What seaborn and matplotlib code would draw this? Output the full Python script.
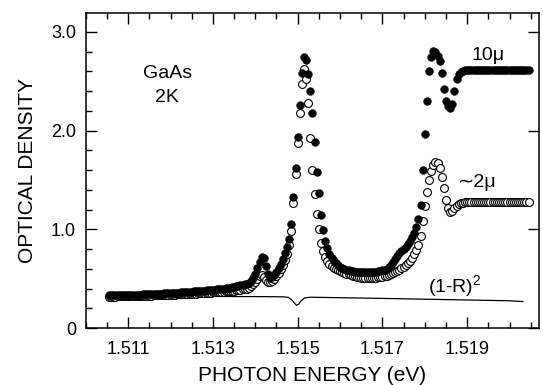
"""
GaAs 2K absorption spectrum: optical density vs photon energy for a 10 um
and a ~2 um sample, with the (1-R)^2 reflection correction underneath.
"""

import matplotlib
matplotlib.use("Agg")
import matplotlib.pyplot as plt
import pandas as pd
import seaborn as sns
from matplotlib.ticker import MultipleLocator

# ----- data -----
energy_ev = [
    1.51055, 1.51060, 1.51065, 1.51070, 1.51075, 1.51080, 1.51085, 1.51090, 1.51095, 1.51100,
    1.51105, 1.51110, 1.51115, 1.51120, 1.51125, 1.51130, 1.51135, 1.51140, 1.51145, 1.51150,
    1.51155, 1.51160, 1.51165, 1.51170, 1.51175, 1.51180, 1.51185, 1.51190, 1.51195, 1.51200,
    1.51205, 1.51210, 1.51215, 1.51220, 1.51225, 1.51230, 1.51235, 1.51240, 1.51245, 1.51250,
    1.51255, 1.51260, 1.51265, 1.51270, 1.51275, 1.51280, 1.51285, 1.51290, 1.51295, 1.51300,
    1.51305, 1.51310, 1.51315, 1.51320, 1.51325, 1.51330, 1.51335, 1.51340, 1.51345, 1.51350,
    1.51355, 1.51360, 1.51365, 1.51370, 1.51375, 1.51380, 1.51385, 1.51390, 1.51395, 1.51400,
    1.51405, 1.51410, 1.51415, 1.51420, 1.51425, 1.51430, 1.51435, 1.51440, 1.51445, 1.51450,
    1.51455, 1.51460, 1.51465, 1.51470, 1.51475, 1.51480, 1.51485, 1.51490, 1.51495, 1.51500,
    1.51505, 1.51510, 1.51515, 1.51520, 1.51525, 1.51530, 1.51535, 1.51540, 1.51545, 1.51550,
    1.51555, 1.51560, 1.51565, 1.51570, 1.51575, 1.51580, 1.51585, 1.51590, 1.51595, 1.51600,
    1.51605, 1.51610, 1.51615, 1.51620, 1.51625, 1.51630, 1.51635, 1.51640, 1.51645, 1.51650,
    1.51655, 1.51660, 1.51665, 1.51670, 1.51675, 1.51680, 1.51685, 1.51690, 1.51695, 1.51700,
    1.51705, 1.51710, 1.51715, 1.51720, 1.51725, 1.51730, 1.51735, 1.51740, 1.51745, 1.51750,
    1.51755, 1.51760, 1.51765, 1.51770, 1.51775, 1.51780, 1.51785, 1.51790, 1.51795, 1.51800,
    1.51805, 1.51810, 1.51815, 1.51820, 1.51825, 1.51830, 1.51835, 1.51840, 1.51845, 1.51850,
    1.51855, 1.51860, 1.51865, 1.51870, 1.51875, 1.51880, 1.51885, 1.51890, 1.51895, 1.51900,
    1.51905, 1.51910, 1.51915, 1.51920, 1.51925, 1.51930, 1.51935, 1.51940, 1.51945, 1.51950,
    1.51955, 1.51960, 1.51965, 1.51970, 1.51975, 1.51980, 1.51985, 1.51990, 1.51995, 1.52000,
    1.52005, 1.52010, 1.52015, 1.52020, 1.52025, 1.52030, 1.52035, 1.52040, 1.52045,
]

# 10 um sample (filled circles)
od_10um = [
    0.330, 0.330, 0.331, 0.331, 0.332, 0.332, 0.333, 0.333, 0.334, 0.334,
    0.335, 0.336, 0.336, 0.337, 0.338, 0.339, 0.340, 0.341, 0.342, 0.343,
    0.344, 0.345, 0.346, 0.347, 0.348, 0.349, 0.350, 0.351, 0.352, 0.354,
    0.355, 0.356, 0.358, 0.359, 0.360, 0.362, 0.363, 0.365, 0.366, 0.368,
    0.370, 0.371, 0.373, 0.375, 0.377, 0.379, 0.381, 0.383, 0.385, 0.388,
    0.390, 0.392, 0.395, 0.397, 0.400, 0.403, 0.406, 0.410, 0.414, 0.418,
    0.422, 0.427, 0.432, 0.437, 0.442, 0.45, 0.46, 0.48, 0.51, 0.55,
    0.61, 0.67, 0.72, 0.71, 0.63, 0.55, 0.51, 0.52, 0.54, 0.57,
    0.61, 0.65, 0.70, 0.76, 0.82, 0.90, 1.05, 1.33, 1.62, 1.93,
    2.26, 2.58, 2.75, 2.71, 2.57, 2.40, 2.18, 1.88, 1.58, 1.37,
    1.14, 0.99, 0.88, 0.81, 0.75, 0.71, 0.68, 0.66, 0.64, 0.62,
    0.61, 0.60, 0.59, 0.585, 0.58, 0.575, 0.57, 0.57, 0.57, 0.57,
    0.57, 0.57, 0.57, 0.57, 0.57, 0.57, 0.57, 0.575, 0.58, 0.585,
    0.59, 0.60, 0.62, 0.64, 0.67, 0.70, 0.73, 0.76, 0.78, 0.80,
    0.82, 0.85, 0.88, 0.92, 0.96, 1.02, 1.10, 1.25, 1.60, 1.97,
    2.30, 2.60, 2.75, 2.81, 2.80, 2.76, 2.70, 2.58, 2.42, 2.30,
    2.25, 2.23, 2.27, 2.40, 2.52, 2.57, 2.59, 2.60, 2.61, 2.61,
    2.61, 2.61, 2.61, 2.61, 2.61, 2.61, 2.61, 2.61, 2.61, 2.61,
    2.61, 2.61, 2.61, 2.61, 2.61, 2.61, 2.61, 2.61, 2.61, 2.61,
    2.61, 2.61, 2.61, 2.61, 2.61, 2.61, 2.61, 2.61, 2.61,
]

# ~2 um sample (open circles)
od_2um = [
    0.318, 0.318, 0.319, 0.319, 0.320, 0.320, 0.321, 0.321, 0.322, 0.322,
    0.323, 0.323, 0.324, 0.324, 0.325, 0.326, 0.326, 0.327, 0.328, 0.328,
    0.329, 0.330, 0.331, 0.331, 0.332, 0.333, 0.334, 0.335, 0.336, 0.337,
    0.338, 0.339, 0.340, 0.341, 0.342, 0.343, 0.344, 0.345, 0.346, 0.347,
    0.348, 0.349, 0.351, 0.352, 0.353, 0.354, 0.356, 0.357, 0.358, 0.360,
    0.361, 0.363, 0.364, 0.366, 0.368, 0.370, 0.372, 0.374, 0.376, 0.379,
    0.382, 0.385, 0.388, 0.392, 0.396, 0.40, 0.41, 0.43, 0.45, 0.47,
    0.50, 0.53, 0.54, 0.52, 0.49, 0.47, 0.47, 0.48, 0.50, 0.53,
    0.56, 0.60, 0.64, 0.69, 0.75, 0.84, 0.98, 1.27, 1.56, 1.87,
    2.18, 2.47, 2.62, 2.52, 2.28, 1.92, 1.60, 1.36, 1.16, 1.00,
    0.86, 0.78, 0.72, 0.68, 0.65, 0.63, 0.61, 0.60, 0.59, 0.58,
    0.57, 0.56, 0.55, 0.545, 0.54, 0.53, 0.525, 0.52, 0.515, 0.51,
    0.51, 0.51, 0.51, 0.51, 0.51, 0.51, 0.51, 0.515, 0.52, 0.52,
    0.525, 0.53, 0.54, 0.55, 0.56, 0.57, 0.58, 0.59, 0.61, 0.62,
    0.64, 0.66, 0.68, 0.71, 0.75, 0.79, 0.84, 0.93, 1.08, 1.24,
    1.38, 1.50, 1.59, 1.65, 1.68, 1.67, 1.62, 1.53, 1.42, 1.30,
    1.22, 1.18, 1.19, 1.22, 1.24, 1.26, 1.27, 1.27, 1.28, 1.28,
    1.28, 1.28, 1.28, 1.28, 1.28, 1.28, 1.28, 1.28, 1.28, 1.28,
    1.28, 1.28, 1.28, 1.28, 1.28, 1.28, 1.28, 1.28, 1.28, 1.28,
    1.28, 1.28, 1.28, 1.28, 1.28, 1.28, 1.28, 1.28, 1.28,
]

# (1-R)^2 reflection curve
refl_energy_ev = [1.51055, 1.5115, 1.5125, 1.5135, 1.5142, 1.51465, 1.51478, 1.51486,
                  1.51492, 1.51497, 1.51502, 1.51508, 1.51516, 1.5153, 1.5160, 1.5170,
                  1.5180, 1.5190, 1.5200, 1.52032]
refl_factor = [0.325, 0.323, 0.321, 0.319, 0.318, 0.316, 0.31, 0.285,
               0.255, 0.23, 0.24, 0.275, 0.305, 0.312, 0.307, 0.300,
               0.292, 0.284, 0.276, 0.268]

x_major = [1.511, 1.513, 1.515, 1.517, 1.519]
x_major_labels = ["1.511", "1.513", "1.515", "1.517", "1.519"]
y_major = [0, 1, 2, 3]
y_major_labels = ["0", "1.0", "2.0", "3.0"]

# ----- style -----
sns.set_style("ticks")
plt.rcParams["font.family"] = ["Liberation Sans", "DejaVu Sans"]
plt.rcParams["mathtext.fontset"] = "custom"
plt.rcParams["mathtext.rm"] = "Liberation Sans"
for key in ["text.color", "axes.labelcolor", "xtick.color", "ytick.color", "axes.edgecolor"]:
    plt.rcParams[key] = "black"

df = pd.DataFrame({"energy": energy_ev, "od_10um": od_10um, "od_2um": od_2um})

fig = plt.figure(figsize=(5.43, 3.85), dpi=100)
ax = fig.add_axes([0.158, 0.148, 0.835, 0.818])

sns.lineplot(x=refl_energy_ev, y=refl_factor, ax=ax, color="black", linewidth=0.9,
             sort=False, estimator=None, zorder=1)
sns.scatterplot(data=df, x="energy", y="od_2um", ax=ax, marker="o", s=32,
                color="white", edgecolor="black", linewidth=0.8, zorder=2)
sns.scatterplot(data=df, x="energy", y="od_10um", ax=ax, marker="o", s=32,
                color="black", edgecolor="black", linewidth=0.3, zorder=3)

ax.set_xlim(1.5100, 1.5207)
ax.set_ylim(0, 3.19)

ax.set_xticks(x_major, x_major_labels)
ax.set_yticks(y_major, y_major_labels)
ax.xaxis.set_minor_locator(MultipleLocator(0.0005))
ax.yaxis.set_minor_locator(MultipleLocator(0.2))

ax.tick_params(which="both", direction="in", top=True, right=True, width=1.0,
               labelsize=13, colors="black")
ax.tick_params(which="major", length=8, pad=7)
ax.tick_params(which="minor", length=4, right=False)
ax.tick_params(axis="x", which="major", pad=9)

for sp in ax.spines.values():
    sp.set_linewidth(1.1)
    sp.set_color("black")

ax.set_xlabel("PHOTON ENERGY (eV)", fontsize=15, labelpad=6)
ax.set_ylabel("OPTICAL DENSITY", fontsize=15, labelpad=10)

# annotations
ax.text(1.51192, 2.58, "GaAs", ha="center", va="center", fontsize=14)
ax.text(1.51192, 2.34, "2K", ha="center", va="center", fontsize=14)
ax.text(1.51911, 2.76, "10μ", ha="left", va="center", fontsize=14)
ax.text(1.51879, 1.47, "\u223c2μ", ha="left", va="center", fontsize=14)
ax.text(1.51807, 0.42, "(1-R)$^2$", ha="left", va="center", fontsize=14)

fig.savefig("out.png", dpi=100)
print("saved out.png")
